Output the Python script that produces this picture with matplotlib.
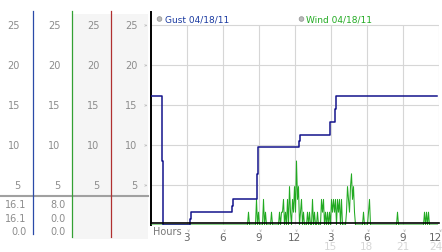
import numpy as np
import matplotlib
matplotlib.use('Agg')
import matplotlib.pyplot as plt
from matplotlib.transforms import blended_transform_factory, offset_copy
from matplotlib.patches import Rectangle, Circle

# gust in mph, value holds from the given hour on
gust_hr = [0, 0.98, 1.05, 3.32, 3.4, 6.82, 6.9, 8.85, 8.93, 12.38, 12.46, 14.92, 15.38, 15.46, 23.9]
gust_mph = [16.1, 8.0, 0.0, 0.8, 1.6, 2.4, 3.2, 6.4, 9.7, 10.5, 11.3, 12.9, 14.5, 16.1, 16.1]

# wind in mph, one reading every 5 min, one row per hour (00h .. 23h)
wind_rows = [
    [0, 0, 0, 0, 0, 0, 0, 0, 0, 0, 0, 0],
    [0, 0, 0, 0, 0, 0, 0, 0, 0, 0, 0, 0],
    [0, 0, 0, 0, 0, 0, 0, 0, 0, 0, 0, 0],
    [0, 0, 0, 0, 0, 0, 0, 0, 0, 0, 0, 0],
    [0, 0, 0, 0, 0, 0, 0, 0, 0, 0, 0, 0],
    [0, 0, 0, 0, 0, 0, 0, 0, 0, 0, 0, 0],
    [0, 0, 0, 0, 0, 0, 0, 0, 0, 0, 0, 0],
    [0, 0, 0, 0, 0, 0, 0, 0, 0, 0, 0, 0],
    [0, 0, 1.6, 0, 0, 0, 0, 0, 0, 0, 3.2, 0],
    [1.6, 0, 0, 0, 0, 3.2, 0, 1.6, 0, 0, 0, 0],
    [0, 1.6, 0, 0, 0, 0, 0, 0, 0, 1.6, 0, 1.6],
    [1.6, 3.2, 0, 1.6, 0, 3.2, 0, 4.8, 1.6, 0, 3.2, 1.6],
    [4.8, 1.6, 8.0, 3.2, 4.8, 0, 1.6, 3.2, 0, 1.6, 0, 0],
    [0, 1.6, 0, 1.6, 0, 0, 3.2, 0, 1.6, 0, 0, 1.6],
    [0, 0, 0, 3.2, 1.6, 3.2, 0, 1.6, 0, 1.6, 0, 1.6],
    [0, 3.2, 1.6, 3.2, 1.6, 3.2, 0, 3.2, 1.6, 3.2, 0, 3.2],
    [0, 0, 0, 0, 1.6, 4.8, 3.2, 1.6, 4.8, 6.4, 3.2, 4.8],
    [1.6, 0, 0, 0, 0, 0, 0, 0, 0, 1.6, 0, 0],
    [0, 0, 1.6, 3.2, 0, 0, 0, 0, 0, 0, 0, 0],
    [0, 0, 0, 0, 0, 0, 0, 0, 0, 0, 0, 0],
    [0, 0, 0, 0, 0, 0, 0, 1.6, 0, 0, 0, 0],
    [0, 0, 0, 0, 0, 0, 0, 0, 0, 0, 0, 0],
    [0, 0, 0, 0, 0, 0, 0, 0, 0, 0, 1.6, 0],
    [1.6, 0, 1.6, 0, 0, 0, 0, 0, 0, 0, 0, 0],
]
wind_mph = np.array(wind_rows).ravel()
wind_hr = np.arange(wind_mph.size) / 12

y_ticks = [5, 10, 15, 20, 25]
hour_ticks = [3, 6, 9, 12, 15, 18, 21, 24]
hour_labels = ['3', '6', '9', '12', '3', '6', '9', '12']
day2_hours = [15, 18, 21, 24]
day2_labels = ['15', '18', '21', '24']

# left side table: current / max / min
gust_stats = ['16.1', '16.1', '0.0']
wind_stats = ['8.0', '0.0', '0.0']

W, H = 442, 253
fig = plt.figure(figsize=(W / 100, H / 100), dpi=100)

# pixel overlay for the decorations
bg = fig.add_axes([0, 0, 1, 1], zorder=0)
bg.set_xlim(0, W)
bg.set_ylim(H, 0)
bg.axis('off')

ax = fig.add_axes([150.5 / W, 27 / H, 288 / W, 213 / H], zorder=1)
ax.set_facecolor('none')
ax.set_xlim(0, 24)
ax.set_ylim(0, 26.625)

grid_c = '#d6d6d6'
ax.hlines(y_ticks, 0, 24, color=grid_c, lw=0.8, zorder=1)
ax.vlines(hour_ticks, 0, 25, color=grid_c, lw=0.8, zorder=1)

ax.plot(wind_hr, wind_mph, color='#22aa22', lw=0.75, zorder=3)
ax.plot(gust_hr, gust_mph, color='#14148c', lw=1.1, drawstyle='steps-post', zorder=4)

for s in ['top', 'right']:
    ax.spines[s].set_visible(False)
ax.spines['left'].set_linewidth(1.4)
ax.spines['bottom'].set_linewidth(1.2)
ax.spines['bottom'].set_position(('data', 0.2))
ax.spines['bottom'].set_zorder(5)
ax.set_xticks([])
ax.set_yticks([])

ty = blended_transform_factory(bg.transData, ax.transData)
tx = blended_transform_factory(ax.transData, bg.transData)
tx_end = offset_copy(tx, fig=fig, x=4, y=0, units='dots')

# x labels, the last one kept inside the picture
for h, lab in zip(hour_ticks, hour_labels):
    if h == 24:
        ax.text(h, 238.5, lab, transform=tx_end, ha='right', va='center', fontsize=7.5, color='#666666')
    else:
        ax.text(h, 238.5, lab, transform=tx, ha='center', va='center', fontsize=7.5, color='#666666')
    ax.text(h, 230, '»', transform=tx, ha='center', va='center', fontsize=4, color='#999999', rotation=-90)
for h, lab in zip(day2_hours, day2_labels):
    if h == 24:
        ax.text(h, 247.5, lab, transform=tx_end, ha='right', va='center', fontsize=7.5, color='#d6d6d6')
    else:
        ax.text(h, 247.5, lab, transform=tx, ha='center', va='center', fontsize=7.5, color='#d6d6d6')
bg.text(153, 232, 'Hours', ha='left', va='center', fontsize=7, color='#777777')

# legend
bg.add_patch(Circle((159.5, 20), 2.3, fc='#bbbbbb', ec='#999999', lw=0.6))
bg.text(165, 20, 'Gust 04/18/11', ha='left', va='center', fontsize=6.5, color='#1a3aa0')
bg.add_patch(Circle((301.5, 20), 2.3, fc='#bbbbbb', ec='#999999', lw=0.6))
bg.text(306, 20, 'Wind 04/18/11', ha='left', va='center', fontsize=6.5, color='#22aa22')

# left panel
bg.add_patch(Rectangle((73, 15), 38, 225, fc='#f5f5f5', ec='none'))
bg.add_patch(Rectangle((112, 15), 36, 225, fc='#f5f5f5', ec='none'))
bg.plot([0, 148], [197, 197], color='#a0a0a0', lw=1.5)
bg.plot([33.3, 33.3], [12, 235], color='#2a4aa8', lw=0.9)
bg.plot([72.3, 72.3], [12, 238], color='#33a033', lw=0.9)
bg.plot([111.3, 111.3], [12, 238], color='#b03030', lw=0.9)

col_right = [20, 60.5, 99.5, 137.5]
for v in y_ticks:
    for xr in col_right:
        bg.text(xr, v, str(v), transform=ty, ha='right', va='center', fontsize=7, color='#8c8c8c')
    bg.text(145.5, v, '»', transform=ty, ha='center', va='center', fontsize=4, color='#999999')

row_y = [205, 219, 232.5]
for yy, g, w in zip(row_y, gust_stats, wind_stats):
    bg.text(26.5, yy, g, ha='right', va='center', fontsize=7, color='#8c8c8c')
    bg.text(66, yy, w, ha='right', va='center', fontsize=7, color='#8c8c8c')

fig.savefig('out.png', dpi=100)
